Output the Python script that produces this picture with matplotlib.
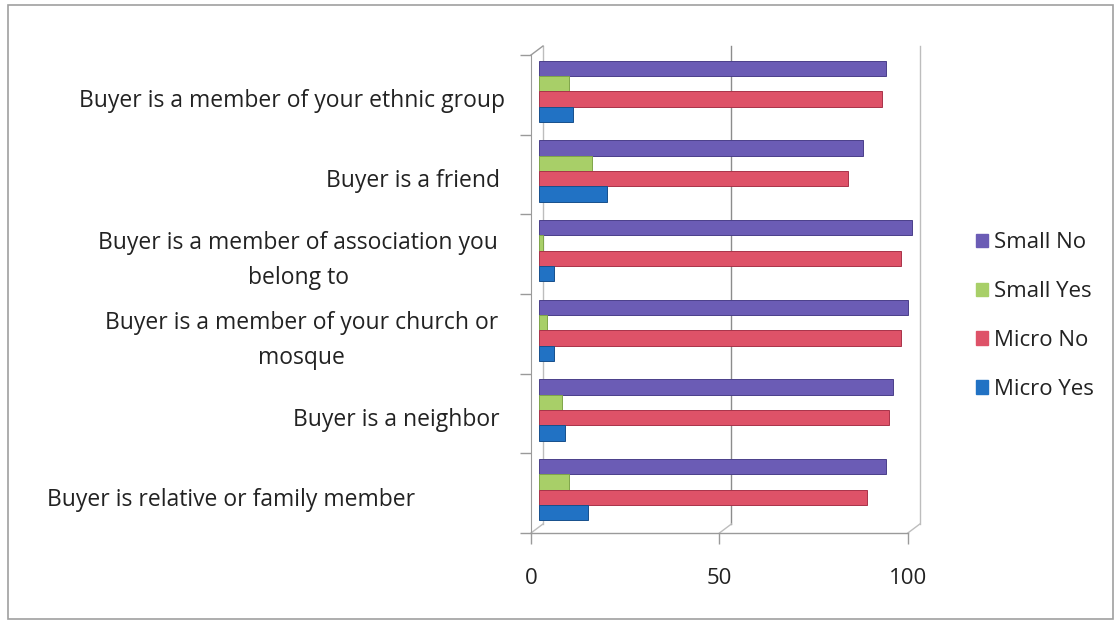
import numpy as np
import matplotlib.pyplot as plt
from matplotlib.patches import Patch, Rectangle

categories = [
    "Buyer is a member of your ethnic group",
    "Buyer is a friend",
    "Buyer is a member of association you\nbelong to",
    "Buyer is a member of your church or\nmosque",
    "Buyer is a neighbor",
    "Buyer is relative or family member",
]
small_no = [92, 86, 99, 98, 94, 92]
small_yes = [8, 14, 1, 2, 6, 8]
micro_no = [91, 82, 96, 96, 93, 87]
micro_yes = [9, 18, 4, 4, 7, 13]
series_names = ["Small No", "Small Yes", "Micro No", "Micro Yes"]
xticks = [0, 50, 100]

colors = ["#6B5CB5", "#A8CF68", "#DE5268", "#2172C4"]
edges = ["#4A3F8A", "#7FA449", "#A83349", "#174F8C"]
# right edge of each category label, in pixels
label_right = [505, 500, 498, 498, 500, 415]

plt.rcParams["font.family"] = ["Open Sans", "DejaVu Sans"]

fig = plt.figure(figsize=(11.14, 6.2), dpi=100)
W, H = 1114, 620
ax = fig.add_axes([531 / W, 1 - 533 / H, 389 / W, 478 / H])

# pseudo-3D depth: floor/front sits left of the bars, back wall sits right and up
front = 2.12
back = 1.06
rise = 9 / 478

y = np.arange(len(categories))
h = 0.192
shift = -0.045
for k, vals in enumerate([small_no, small_yes, micro_no, micro_yes]):
    ax.barh(y + shift + (k - 1.5) * h, vals, height=h, color=colors[k],
            edgecolor=edges[k], linewidth=0.7, zorder=3)

ax.set_xlim(-front, 101.1)
ax.set_ylim(len(categories) - 0.5, -0.5)

for s in ["top", "right", "bottom"]:
    ax.spines[s].set_visible(False)
ax.spines["left"].set_color("#9A9A9A")

# y ticks at the category boundaries
ax.set_yticks(np.arange(len(categories) + 1) - 0.5)
ax.set_yticklabels([])
ax.tick_params(axis="y", length=8, color="#9A9A9A", width=1)

# x ticks on the front floor edge
ax.set_xticks(np.array(xticks) - front)
ax.set_xticklabels([str(v) for v in xticks], fontsize=16, color="#222222")
ax.tick_params(axis="x", length=8, color="#9A9A9A", width=1, pad=17)

xt = ax.get_xaxis_transform()
grid_c = "#8C8C8C"
for v in xticks:
    c = grid_c if v == 50 else "#BDBDBD"
    ax.plot([v + back, v + back], [rise, 1 + rise], transform=xt, color=c,
            lw=1, clip_on=False, zorder=1)
    ax.plot([v - front, v + back], [0, rise], transform=xt, color="#BDBDBD",
            lw=1, clip_on=False, zorder=1)
ax.plot([-front, back], [1, 1 + rise], transform=xt, color="#9A9A9A", lw=1,
        clip_on=False)
ax.plot([-front, 100 - front], [0, 0], transform=xt, color="#9A9A9A", lw=1,
        clip_on=False)

yt = ax.get_yaxis_transform()
for i, lab in enumerate(categories):
    ax.text((label_right[i] - 531) / 389, i + 0.08, lab, transform=yt,
            ha="right", va="center", multialignment="center",
            fontsize=16.5, color="#222222", linespacing=1.6)

handles = [Patch(facecolor=c, edgecolor=c) for c in colors]
fig.legend(handles, series_names, loc="center left",
           bbox_to_anchor=(965 / W, 1 - 316 / H), frameon=False,
           fontsize=16, handlelength=0.55, handleheight=0.55,
           handletextpad=0.25, labelspacing=1.25, borderpad=0,
           labelcolor="#222222")

# outer chart border
fig.patches.append(Rectangle((8 / W, 0.002), 1 - 8 / W - 0.001, 1 - 5 / H - 0.002,
                             transform=fig.transFigure, fill=False,
                             edgecolor="#A0A0A0", lw=1.2))

fig.savefig("out.png", dpi=100)
